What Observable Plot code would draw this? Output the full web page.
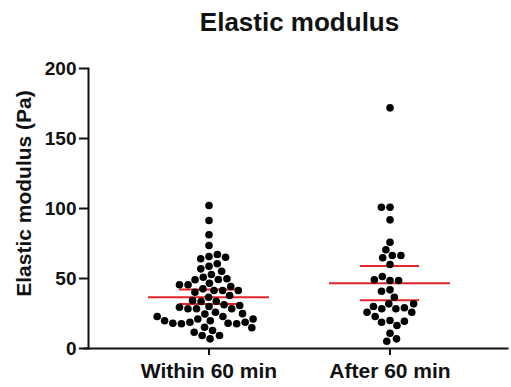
<!DOCTYPE html>
<html><head><meta charset="utf-8">
<script src="https://cdn.jsdelivr.net/npm/d3@7"></script>
<script src="https://cdn.jsdelivr.net/npm/@observablehq/plot@0.6"></script>
<style>body{margin:0;background:#fff} svg{display:block}</style>
</head><body><div id="chart"></div>
<script>
const categories = ["Within 60 min", "After 60 min"];
const within60 = [
  102.1, 91.4, 81.2, 73.6,
  65.7, 64.1, 67.1, 65.2,
  58.8, 56.9, 60.5,
  55.2, 52.9,
  50.9, 49.3, 49.1, 49.8,
  46.6,
  45.5, 42.6, 44.3, 45.5,
  41.4, 41.4, 40.2, 41.4,
  37.9, 36.6,
  33.8, 33.6, 34.3, 31.2,
  30.0, 28.4, 28.4, 25.9, 28.4, 29.5, 30.7,
  24.6, 22.9, 21.1, 19.8, 18.7, 18.0, 17.7, 17.7, 18.0, 18.7, 19.8, 21.1, 22.9, 24.9,
  15.2, 12.9, 9.3, 6.9, 9.3, 11.6, 14.8
];
const after60 = [
  171.9, 100.9, 100.9, 91.9, 75.9,
  70.5, 66.4, 64.8, 66.4, 60.0,
  48.6, 51.4, 48.6, 49.1,
  41.9, 40.9, 36.6,
  31.9, 28.4, 28.4, 29.1, 30.0, 25.9, 31.9, 25.9,
  20.0, 18.8, 16.4, 19.5, 22.9,
  10.9, 5.2, 6.9
];
const means = [36.6, 46.6];
const ciLow = [31.8, 34.4];
const ciHigh = [42.1, 58.9];
const yTicks = [0, 50, 100, 150, 200];
const titleText = "Elastic modulus";
const yLabel = "Elastic modulus (Pa)";

const points = [
  ...within60.map(v => ({group: categories[0], value: v})),
  ...after60.map(v => ({group: categories[1], value: v}))
];
const stats = categories.map((c, i) => ({group: c, mean: means[i], lo: ciLow[i], hi: ciHigh[i]}));
const font = "'Liberation Sans', Arial, sans-serif";
const red = "#e3242b";
const ink = "#111";

const chart = Plot.plot({
  width: 511, height: 387,
  marginLeft: 117.5, marginRight: 31.5, marginTop: 68, marginBottom: 39,
  style: {fontFamily: font, color: ink, background: "#fff"},
  fx: {domain: categories, padding: 0, label: null},
  y: {domain: [0, 200]},
  marks: [
    Plot.text([titleText], {frameAnchor: "top", dy: -46, lineAnchor: "middle", textAnchor: "middle", facet: "super", fontSize: 26, fontWeight: "bold", fill: ink}),
    Plot.text([yLabel], {frameAnchor: "left", dx: -94, dy: -15, rotate: -90, textAnchor: "middle", lineAnchor: "middle", facet: "super", fontSize: 21, fontWeight: "bold", fill: ink}),
    Plot.frame({anchor: "left", dx: -30, facet: "super", stroke: ink, strokeWidth: 2}),
    Plot.frame({anchor: "bottom", insetLeft: -34, insetRight: -27, facet: "super", stroke: ink, strokeWidth: 2}),
    Plot.axisY({ticks: yTicks, tickSize: 9, tickPadding: 3, dx: -30, fontSize: 19, fontWeight: "bold", label: null, strokeWidth: 2, stroke: ink}),
    Plot.axisFx({anchor: "bottom", tickSize: 7, tickPadding: 8, fontSize: 21, fontWeight: "bold", label: null, strokeWidth: 2, stroke: ink}),
    Plot.ruleY(stats, {fx: "group", y: "mean", stroke: red, strokeWidth: 2, insetLeft: 30, insetRight: 30}),
    Plot.ruleY(stats, {fx: "group", y: "lo", stroke: red, strokeWidth: 2, insetLeft: 61, insetRight: 61}),
    Plot.ruleY(stats, {fx: "group", y: "hi", stroke: red, strokeWidth: 2, insetLeft: 61, insetRight: 61}),
    Plot.ruleX(stats, {fx: "group", y1: "lo", y2: "hi", stroke: red, strokeWidth: 2}),
    Plot.dot(points, Plot.dodgeX("middle", {fx: "group", y: "value", r: 3.8, padding: 0.6, fill: "#000", stroke: null}))
  ]
});
document.getElementById("chart").append(chart);
</script>
</body></html>
